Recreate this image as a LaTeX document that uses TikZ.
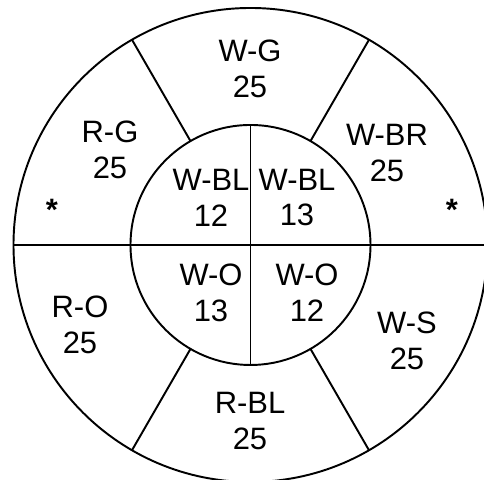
\documentclass[tikz,border=0pt]{standalone}
\usepackage{fontspec}
\setmainfont{Liberation Sans}
\begin{document}
\begin{tikzpicture}[line width=.55pt,
  lbl/.style={align=center, font=\fontsize{8.8}{10.2}\selectfont}]
  \useasboundingbox (0,0) rectangle (4.84,4.80);
  \coordinate (c) at (2.505, 2.35);
  \draw (c) circle [radius=2.37];
  \draw (c) circle [radius=1.2];
  \draw ([xshift=-2.37cm]c) -- ([xshift=2.37cm]c);
  \draw ([yshift=-1.2cm]c) -- ([yshift=1.2cm]c);
  \foreach \a in {60,120,-60,-120}
    \draw[shift={(c)}] (\a:1.2) -- (\a:2.37);

  \node[lbl] (wg) at (2.50, 4.115) {W-G\\25};
  \node[lbl] (rg) at (1.10, 3.30) {R-G\\25};
  \node[lbl] (wbr) at (3.87, 3.27) {W-BR\\25};
  \node[lbl] (wbl1) at (2.11, 2.825) {W-BL\\12};
  \node[lbl] (wbl2) at (2.97, 2.825) {W-BL\\13};
  \node[lbl] (wo1) at (2.11, 1.875) {W-O\\13};
  \node[lbl] (wo2) at (3.07, 1.875) {W-O\\12};
  \node[lbl] (ro) at (0.80, 1.555) {R-O\\25};
  \node[lbl] (ws) at (4.07, 1.395) {W-S\\25};
  \node[lbl] (rbl) at (2.50, 0.59) {R-BL\\25};
  \node[lbl, anchor=base, font=\fontsize{8.8}{10.2}\selectfont\bfseries] (starl) at (0.52, 2.59) {*};
  \node[lbl, anchor=base, font=\fontsize{8.8}{10.2}\selectfont\bfseries] (starr) at (4.52, 2.59) {*};
\end{tikzpicture}
\end{document}
